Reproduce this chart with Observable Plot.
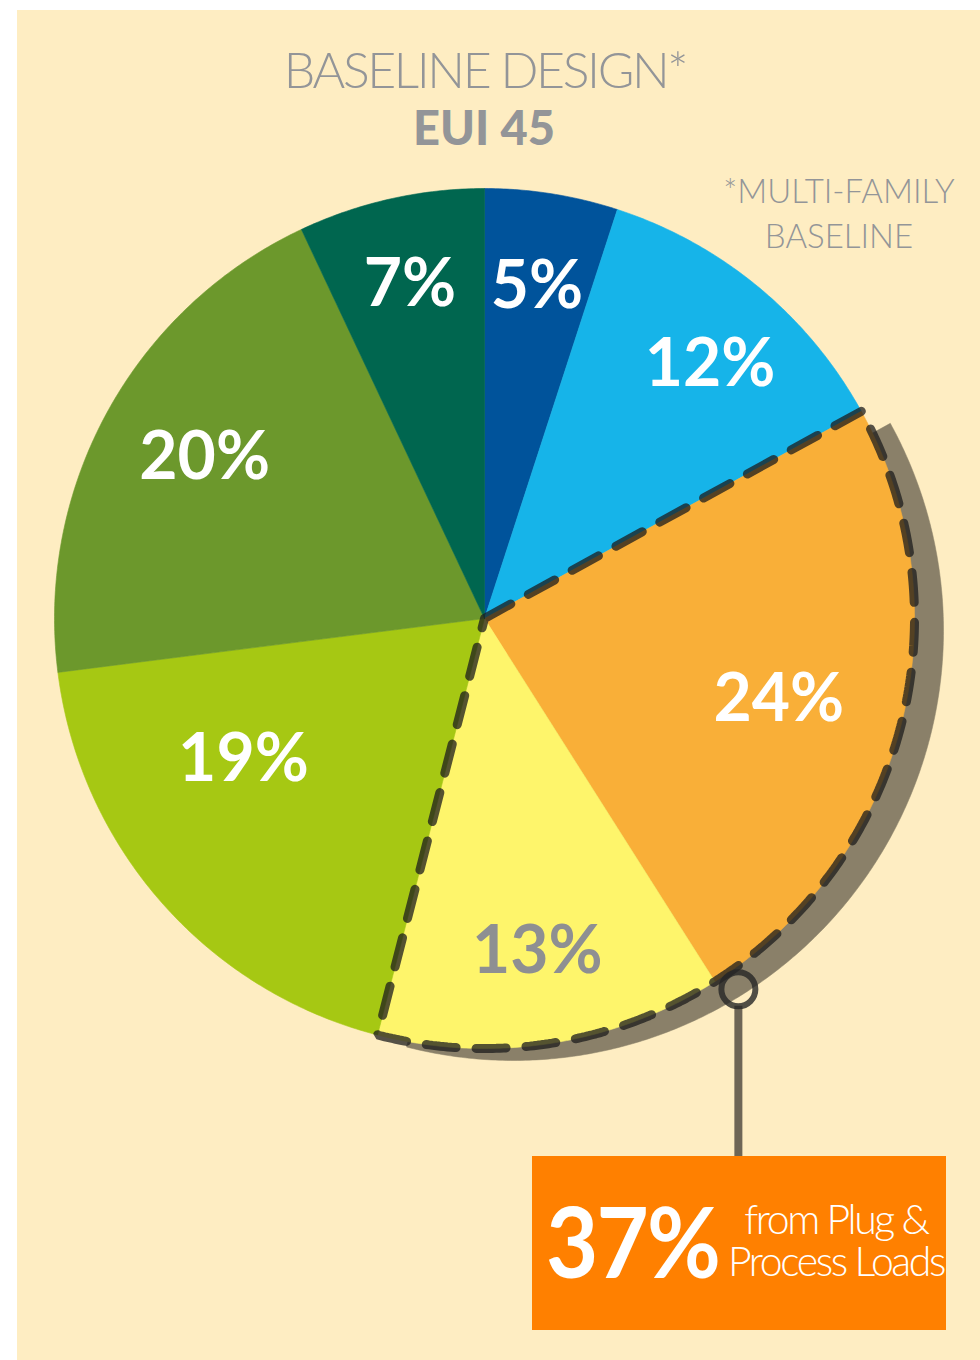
<!DOCTYPE html>
<html><head><meta charset="utf-8">
<script src="https://cdn.jsdelivr.net/npm/d3@7"></script>
<script src="https://cdn.jsdelivr.net/npm/@observablehq/plot@0.6"></script>
<style>
html,body{margin:0;padding:0;background:#fff;}
#page{position:relative;width:980px;height:1360px;overflow:hidden;background:#fff;font-family:Lato,"Open Sans",sans-serif;}
#panel{position:absolute;left:17px;top:10px;width:963px;height:1350px;background:#FEEDC2;}
#panel svg{position:absolute;left:0;top:0;background:transparent;}
.t{position:absolute;white-space:nowrap;line-height:1;text-align:center;color:#939598;}
#box{position:absolute;left:532px;top:1156px;width:414px;height:174px;background:#FF8000;}
.w{position:absolute;white-space:nowrap;line-height:1;color:#fff;}
</style>
</head><body>
<div id="page">
  <div id="panel"></div>
  <div class="t" id="title" style="left:185px;width:600px;top:44px;font-size:50px;font-weight:300;letter-spacing:-2.4px;"></div>
  <div class="t" id="subtitle" style="left:184px;width:600px;top:104px;font-size:47px;font-weight:900;"></div>
  <div class="t" id="note" style="left:689px;width:300px;top:168px;font-size:33px;font-weight:300;line-height:45px;white-space:pre;"></div>
  <div id="box"></div>
  <div class="w" id="bigPct" style="left:546px;top:1192px;font-size:97px;font-weight:700;letter-spacing:-2px;transform:scaleX(0.93);transform-origin:0 0;"></div>
  <div class="w" id="call" style="left:636px;width:400px;text-align:center;top:1198px;font-size:41px;font-weight:300;letter-spacing:-2.4px;line-height:42px;white-space:pre;"></div>
</div>
<script>
// ---- data ----
const categories = ["S1", "S2", "S3", "S4", "S5", "S6", "S7"];
const shares = [5, 12, 24, 13, 19, 20, 7];
const shareLabels = ["5%", "12%", "24%", "13%", "19%", "20%", "7%"];
const highlighted = ["S3", "S4"];
const titleText = "BASELINE DESIGN*";
const subtitleText = "EUI 45";
const noteLines = ["*MULTI-FAMILY", "BASELINE"];
const calloutLines = ["from Plug &", "Process Loads"];

// ---- styles / layout ----
const palette = ["#00539B", "#16B4E9", "#F9AF38", "#FEF56B", "#A6C813", "#6C982C", "#00664F"];
const labelInk = ["#fff", "#fff", "#fff", "#8E8F92", "#fff", "#fff", "#fff"];
const labelPlace = [ // [angle shift deg, radius fraction]
  [0, 0.78], [2, 0.79], [1, 0.71], [0, 0.785], [11, 0.65], [1, 0.75], [0, 0.795]
];
const W = 963, H = 1350, cx = 467, cy = 608, R = 430;
const shadowDx = 29, shadowDy = 12;
const boxTop = 1146;

const total = d3.sum(shares);
let acc = 0;
const slices = categories.map((c, i) => {
  const a0 = acc / total * 2 * Math.PI; acc += shares[i];
  const a1 = acc / total * 2 * Math.PI;
  return {c, i, a0, a1};
});
function wedge(a0, a1, dx = 0, dy = 0) {
  const pts = [[dx, dy]];
  const n = Math.max(2, Math.ceil((a1 - a0) / (Math.PI / 360)));
  for (let k = 0; k <= n; k++) {
    const a = a0 + (a1 - a0) * k / n;
    pts.push([Math.sin(a) + dx, Math.cos(a) + dy]);
  }
  pts.push([dx, dy]);
  return pts;
}
const sliceRows = slices.flatMap(s => wedge(s.a0, s.a1).map(([x, y]) => ({c: s.c, x, y})));
const hs = slices.filter(s => highlighted.includes(s.c));
const hA0 = d3.min(hs, s => s.a0), hA1 = d3.max(hs, s => s.a1);
const shadowRows = wedge(hA0, hA1, shadowDx / R, -shadowDy / R).map(([x, y]) => ({x, y}));
const outlineRows = wedge(hA0, hA1).map(([x, y]) => ({x, y}));
const labelRows = slices.map(s => {
  const a = (s.a0 + s.a1) / 2 + labelPlace[s.i][0] * Math.PI / 180;
  const r = labelPlace[s.i][1];
  return {c: s.c, i: s.i, x: r * Math.sin(a), y: r * Math.cos(a), text: shareLabels[s.i]};
});
// callout anchor near the boundary between the two highlighted slices
const bA = hs[0].a1 - 2 * Math.PI / 180, bR = 1.045;
const anchor = {x: bR * Math.sin(bA), y: bR * Math.cos(bA)};
const dotR = 17;

const chart = Plot.plot({
  width: W, height: H, margin: 0,
  x: {domain: [-cx / R, (W - cx) / R], axis: null},
  y: {domain: [-(H - cy) / R, cy / R], axis: null},
  color: {domain: categories, range: palette},
  style: {background: "transparent", overflow: "visible"},
  marks: [
    Plot.line(shadowRows, {x: "x", y: "y", fill: "#8A8069", stroke: "#8A8069", strokeWidth: 0.5, curve: "linear"}),
    Plot.line(sliceRows, {x: "x", y: "y", z: "c", fill: "c", stroke: "c", strokeWidth: 0.6, curve: "linear"}),
    Plot.ruleX([anchor], {x: "x", y1: d => d.y - dotR / R, y2: (cy - boxTop - 4) / R, stroke: "#6E6656", strokeWidth: 8}),
    Plot.line(outlineRows, {x: "x", y: "y", fill: "none", stroke: "#1c1c1c", strokeOpacity: 0.75, strokeWidth: 9, strokeDasharray: "30,20", strokeLinejoin: "miter", curve: "linear"}),
    Plot.dot([anchor], {x: "x", y: "y", r: dotR, fill: "none", stroke: "#262626", strokeOpacity: 0.8, strokeWidth: 6}),
    Plot.text(labelRows.filter(d => labelInk[d.i] === "#fff"), {x: "x", y: "y", text: "text", fill: "#fff", fontSize: 66, fontWeight: 700, fontFamily: "Lato, sans-serif"}),
    Plot.text(labelRows.filter(d => labelInk[d.i] !== "#fff"), {x: "x", y: "y", text: "text", fill: d => labelInk[d.i], fontSize: 66, fontWeight: 700, fontFamily: "Lato, sans-serif"})
  ]
});
document.getElementById("panel").appendChild(chart);
document.getElementById("title").textContent = titleText;
document.getElementById("subtitle").textContent = subtitleText;
document.getElementById("note").textContent = noteLines.join("\n");
document.getElementById("bigPct").textContent = d3.sum(hs, s => shares[s.i]) + "%";
document.getElementById("call").textContent = calloutLines.join("\n");
</script>
</body></html>
